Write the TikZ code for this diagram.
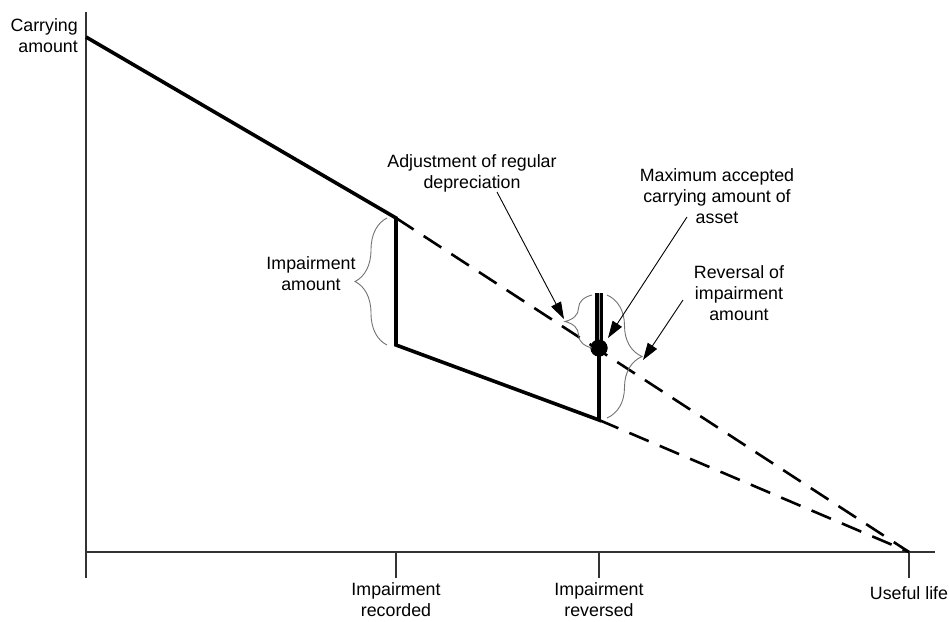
\documentclass[tikz,border=0pt]{standalone}
\usepackage{fontspec}
\setmainfont{Liberation Sans}
\usetikzlibrary{arrows.meta,decorations.pathreplacing}

\begin{document}
\begin{tikzpicture}[x=1pt,y=-1pt]%
  \tikzstyle{axisl}=[draw=black!80,line width=1.8pt]
  \tikzstyle{solidl}=[draw=black,line width=3.6pt,line join=miter]
  \tikzstyle{dashl}=[draw=black,line width=2.6pt,dash pattern=on 21pt off 12pt]
  \tikzstyle{callout}=[draw=black,line width=0.9pt,-{Triangle[length=17pt,width=11pt]}]
  \tikzstyle{bracen}=[draw=black!55,line width=0.9pt,decorate]
  \tikzstyle{lbl}=[align=center,inner sep=0,font=\fontsize{17.8}{21}\selectfont]
  \useasboundingbox[fill=white] (0,0) rectangle (949,621);
  \coordinate (ytop) at (86,12);
  \coordinate (ybot) at (86,578);
  \coordinate (o) at (86,552);
  \coordinate (xend) at (935,552);
  \coordinate (start) at (86,37);
  \coordinate (rec) at (396,218);
  \coordinate (recl) at (396,345);
  \coordinate (rev) at (599,420);
  \coordinate (revtop) at (599,293);
  \coordinate (end) at (909,552);
  \node(dot)[circle,fill=black,inner sep=0,minimum size=17pt] at (599,348) {};
  % axes
  \draw[axisl] (ytop) -- (ybot);
  \draw[axisl] (o) -- (xend);
  \foreach \t in {396,599,909} \draw[axisl] (\t,552) -- (\t,578);
  % carrying amount
  \draw[dashl] (rec) -- (end);
  \draw[dashl] (rev) -- (end);
  \draw[solidl] (start) -- (rec) -- (recl) -- (rev) -- (dot.center);
  \draw[draw=black,line width=3.2pt,double=black!35,double distance=0.8pt] (dot.center) -- (revtop);
  \fill (dot) circle (8.5);
  % braces
  \draw[bracen,decoration={brace,amplitude=32pt}] (387,345) -- (387,218);
  \draw[bracen,decoration={brace,amplitude=27pt}] (592,348) -- (592,295);
  \draw[bracen,decoration={brace,amplitude=35pt}] (607,295) -- (607,418);
  % labels
  \node(car)[lbl,align=right,anchor=east] at (78,36) {Carrying\\amount};
  \node(imp)[lbl] at (311,274) {Impairment\\amount};
  \node(adj)[lbl] at (472,173) {Adjustment of regular\\depreciation};
  \node(max)[lbl] at (717,196) {Maximum accepted\\carrying amount of\\asset};
  \node(rvs)[lbl] at (739,293) {Reversal of\\impairment\\amount};
  \node(trec)[lbl] at (396,600) {Impairment\\recorded};
  \node(trev)[lbl] at (599,600) {Impairment\\reversed};
  \node(tend)[lbl] at (909,593) {Useful life};
  % callouts
  \coordinate (adjf) at (497,192);
  \coordinate (adjt) at (564,319);
  \coordinate (maxf) at (687,217);
  \coordinate (maxt) at (608,338);
  \coordinate (rvsf) at (683,300);
  \coordinate (rvst) at (643,360);
  \draw[callout] (adjf) -- (adjt);
  \draw[callout] (maxf) -- (maxt);
  \draw[callout] (rvsf) -- (rvst);
\end{tikzpicture}
\end{document}
